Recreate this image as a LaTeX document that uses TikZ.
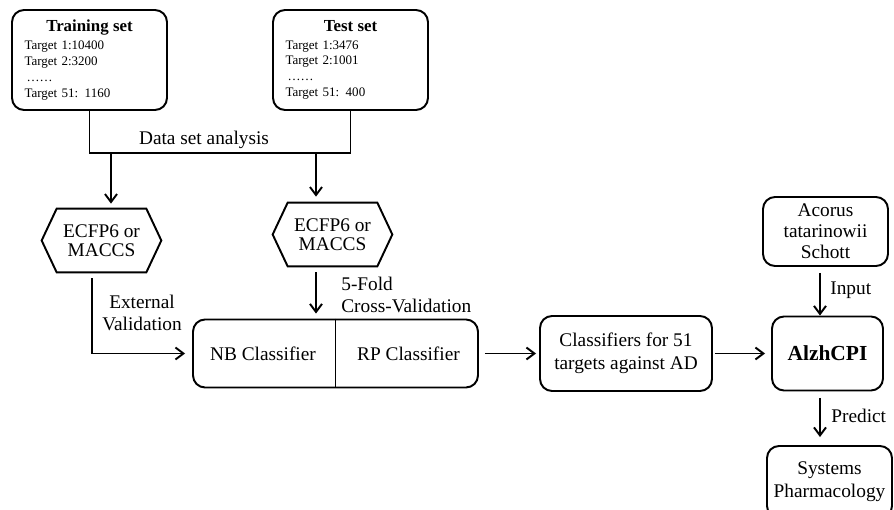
\documentclass[tikz,border=0pt]{standalone}
\usepackage{fontspec}
\setmainfont{Liberation Serif}
\usetikzlibrary{arrows.meta,positioning}

\begin{document}
\begin{tikzpicture}[x=0.02cm,y=-0.02cm,
  box/.style={draw,rounded corners=0.24cm,line width=1.1pt,align=center,inner sep=0pt},
  setbox/.style={box,align=left,text width=2.6cm,inner xsep=0.25cm,minimum height=2cm,
    font=\fontsize{7.4}{9.1}\selectfont},
  hexnode/.style={minimum width=2.38cm,minimum height=1.26cm,align=center,inner sep=0pt,
    font=\fontsize{11}{10.8}\selectfont},
  lbl/.style={align=left,inner sep=0pt},
  flow/.style={line width=1.1pt},
  >={Straight Barb[length=1.6mm,width=2.4mm]},
  font=\fontsize{11}{13}\selectfont]

\clip (0,0) rectangle (894,510);

%============================ data sets ============================
\node[setbox] (train) at (89.5,60)
  {\makebox[\linewidth]{\fontsize{9.6}{11}\selectfont\bfseries Training set}\\[1pt]
   Target 1:10400\\Target 2:3200\\\,……\\Target 51: 1160};
\node[setbox] (test) at (350.5,60)
  {\makebox[\linewidth]{\fontsize{9.6}{11}\selectfont\bfseries Test set}\\[1pt]
   Target 1:3476\\Target 2:1001\\\,……\\Target 51: 400};

\coordinate (split) at (0,153);
\draw[flow] (train.south) |- (split -| test.south) -- (test.south);
\node (dsa) at (204,140) {Data set analysis};

% --- fingerprints ---
\node[hexnode] (hexA) at (101.5,240.5) {ECFP6 or\\MACCS};
\node[hexnode] (hexB) at (332.5,234.5) {ECFP6 or\\MACCS};
\foreach \h in {hexA,hexB}
  \draw[flow] (\h.west) -- ([xshift=0.3cm]\h.north west) -- ([xshift=-0.3cm]\h.north east)
    -- (\h.east) -- ([xshift=-0.3cm]\h.south east) -- ([xshift=0.3cm]\h.south west) -- cycle;

\coordinate (dA) at (111,153);
\coordinate (dB) at (316,153);
\draw[flow,->,shorten >=0.1cm] (dA) -- (dA |- hexA.north);
\draw[flow,->,shorten >=0.12cm] (dB) -- (dB |- hexB.north);

%============================ classifiers ============================
\node[box,minimum width=5.7cm,minimum height=1.36cm] (cls) at (335.5,353.5) {};
\draw[flow] (cls.north) -- (cls.south);
\node (nb) at (263,354) {NB Classifier};
\node (rp) at (408.5,354) {RP Classifier};

\coordinate (eA) at ([xshift=-0.19cm,yshift=-0.12cm]hexA.south);
\draw[flow,->,shorten >=0.14cm] (eA) |- (cls.west);
\node[align=center] (ext) at (142,313) {External\\Validation};

\coordinate (fA) at ([xshift=-0.33cm,yshift=-0.12cm]hexB.south);
\draw[flow,->,shorten >=0.1cm] (fA) -- (fA |- cls.north);
\node[lbl,anchor=west] (fold) at (341,295) {5-Fold\\Cross-Validation};

\node[box,minimum width=3.44cm,minimum height=1.5cm] (clf) at (626,353.5)
  {Classifiers for 51\\targets against AD};
\draw[flow,->,shorten <=0.12cm,shorten >=0.06cm] (cls.east) -- (clf.west);

%============================ prediction ============================
\node[box,minimum width=2.22cm,minimum height=1.48cm,font=\fontsize{12.2}{14}\selectfont\bfseries]
  (alz) at (827.5,353.5) {AlzhCPI};
\draw[flow,->,shorten <=0.04cm,shorten >=0.12cm] (clf.east) -- (alz.west);

\node[box,minimum width=2.5cm,minimum height=1.38cm,font=\fontsize{11}{12}\selectfont]
  (acorus) at (825.5,231.5) {Acorus\\tatarinowii\\Schott};
\coordinate (iA) at ([xshift=-0.11cm,yshift=-0.12cm]acorus.south);
\draw[flow,->] (iA) -- (iA |- alz.north);
\node[lbl,anchor=west] (inp) at (830,290) {Input};

\node[box,minimum width=2.5cm,minimum height=1.44cm] (sys) at (829.5,482)
  {Systems\\Pharmacology};
\coordinate (pA) at ([xshift=-0.15cm,yshift=-0.13cm]alz.south);
\draw[flow,->,shorten >=0.16cm] (pA) -- (pA |- sys.north);
\node[lbl,anchor=west] (pred) at (831,416) {Predict};

\end{tikzpicture}
\end{document}
